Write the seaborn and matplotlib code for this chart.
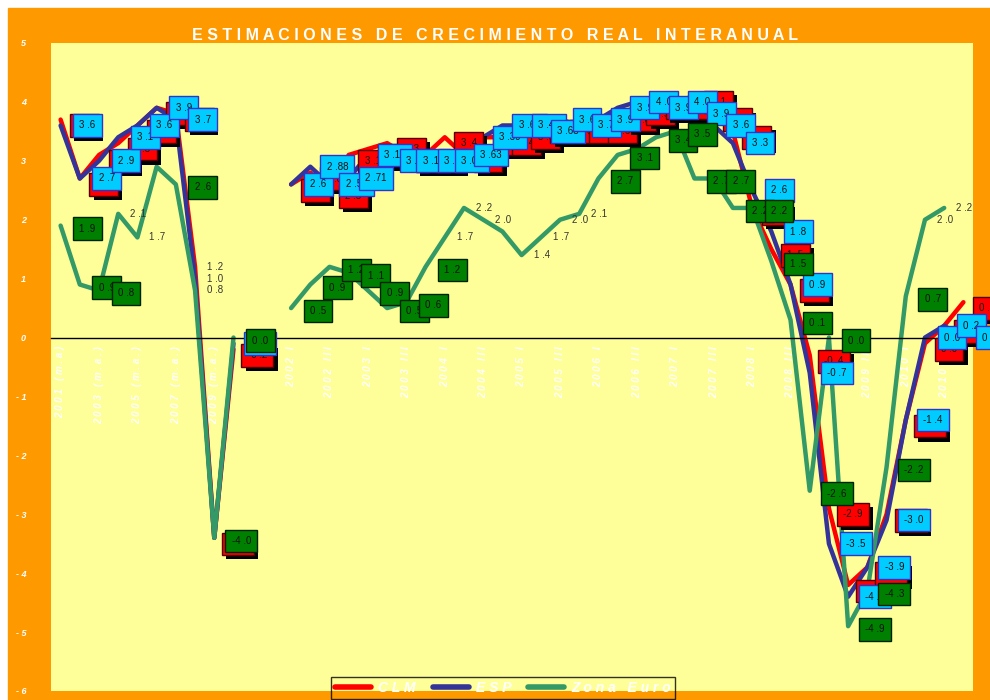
import numpy as np
import pandas as pd
import matplotlib
matplotlib.use('Agg')
import matplotlib.pyplot as plt
import matplotlib.patheffects as pe
from matplotlib.lines import Line2D
from matplotlib.patches import Rectangle
import seaborn as sns

nan = np.nan

# periodos: medias anuales y luego trimestres
anuales = ['2001 (m.a)', '2002 (m.a.)', '2003 (m.a.)', '2004 (m.a.)', '2005 (m.a.)',
           '2006 (m.a.)', '2007 (m.a.)', '2008 (m.a.)', '2009 (m.a.)', '2010 (m.a.)', '', '']
trimestres = [f'{a} {q}' for a in range(2002, 2011) for q in ['I', 'II', 'III', 'IV']]
periodos = anuales + trimestres

# valores de las lineas
clm = [3.7, 2.7, 3.1, 3.3, 3.6, 3.9, 3.8, 1.2, -3.4, -0.2, nan, nan,
       2.6, 2.8, 2.5, 3.1, 3.2, 3.3, 3.1, 3.1, 3.4, 3.1, 3.4, 3.4,
       3.5, 3.6, 3.6, 3.6, 3.6, 3.8, 3.9, 4.0, 4.0, 4.1, 3.8, 3.5,
       2.2, 1.5, 0.9, -0.3, -2.9, -4.2, -3.9, -3.0, -1.4, -0.1, 0.2, 0.6]
esp = [3.6, 2.7, 3.0, 3.4, 3.6, 3.9, 3.7, 1.0, -3.4, -0.1, nan, nan,
       2.6, 2.9, 2.6, 2.7, 3.1, 3.0, 3.0, 3.0, 3.0, 3.1, 3.4, 3.6,
       3.6, 3.5, 3.7, 3.6, 3.7, 3.9, 4.0, 3.9, 4.0, 3.8, 3.6, 3.3,
       2.5, 1.8, 0.9, -0.6, -3.5, -4.4, -3.9, -3.1, -1.4, 0.0, 0.2, 0.0]
zona = [1.9, 0.9, 0.8, 2.1, 1.7, 2.9, 2.6, 0.8, -3.4, 0.0, nan, nan,
        0.5, 0.9, 1.2, 1.1, 0.8, 0.5, 0.6, 1.2, 1.7, 2.2, 2.0, 1.8,
        1.4, 1.7, 2.0, 2.1, 2.7, 3.1, 3.2, 3.4, 3.5, 2.7, 2.7, 2.2,
        2.2, 1.3, 0.3, -2.6, 0.0, -4.9, -4.3, -2.2, 0.7, 2.0, 2.2, nan]

# textos de las etiquetas (tal como aparecen)
clm_etq = [3.7, 2.7, 3.2, 3.3, 3.6, 3.9, 3.9, 1.2, -3.5, -0.2, nan, nan,
           2.6, 2.8, 2.5, 3.1, 3.2, 3.3, 3.1, 3.1, 3.4, 3.1, 3.4, 3.4,
           3.5, 3.6, 3.6, 3.6, 3.6, 3.8, 3.9, 4.0, 4.0, 4.1, 3.8, 3.6,
           2.2, 1.5, 0.9, -0.4, -2.9, -4.2, -3.9, -3.0, -1.4, 0.0, 0.2, 0.6]
esp_etq = [3.6, 2.7, 2.9, 3.1, 3.6, 3.9, 3.7, 1.0, nan, -0.1, nan, nan,
           2.6, 2.88, 2.57, 2.71, 3.19, 3.0, 3.17, 3.0, 3.09, 3.63, 3.39, 3.62,
           3.43, 3.68, 3.6, 3.7, 3.9, 3.9, 4.0, 3.9, 4.0, 3.9, 3.6, 3.3,
           2.6, 1.8, 0.9, -0.7, -3.5, -4.4, -3.9, -3.0, -1.4, 0.0, 0.2, 0.0]
zona_etq = [1.9, 0.9, 0.8, 2.1, 1.7, nan, 2.6, 0.8, -4.0, 0.0, nan, nan,
            0.5, 0.9, 1.2, 1.1, 0.9, 0.5, 0.6, 1.2, 1.7, 2.2, 2.0, nan,
            1.4, 1.7, 2.0, 2.1, 2.7, 3.1, nan, 3.4, 3.5, 2.7, 2.7, 2.2,
            2.2, 1.5, 0.1, -2.6, 0.0, -4.9, -4.3, -2.2, 0.7, 2.0, 2.2, nan]
# etiquetas sin recuadro
clm_planas = [7]
esp_planas = [7]
zona_planas = [3, 4, 7, 20, 21, 22, 24, 25, 26, 27, 45, 46]

series = ['C L M', 'E S P', 'Z o n a   E u r o']
colores = ['#FF0000', '#333399', '#339966']

NARANJA = '#FF9900'
AMARILLO = '#FFFF99'

rows = []
for nombre, vals in zip(series, [clm, esp, zona]):
    for i, v in enumerate(vals):
        rows.append({'pos': i, 'valor': v, 'serie': nombre, 'tramo': 0 if i < 12 else 1})
df = pd.DataFrame(rows).dropna()

sns.set_style('white')
plt.rcParams['font.family'] = ['Liberation Sans', 'DejaVu Sans']

fig = plt.figure(figsize=(9.9, 7.0), dpi=100)
fig.patch.set_facecolor('white')
fig.patches.append(Rectangle((8 / 990, 0), 1 - 8 / 990, 1 - 8 / 700,
                             transform=fig.transFigure, color=NARANJA, zorder=-10))

ax = fig.add_axes([51 / 990, 1 - 691 / 700, 922 / 990, 648 / 700])
ax.set_zorder(1)
ax.set_facecolor(AMARILLO)

sns.lineplot(data=df, x='pos', y='valor', hue='serie', units='tramo', estimator=None,
             palette=dict(zip(series, colores)), hue_order=series, linewidth=3.2,
             sort=False, legend=False, ax=ax)

ax.set_xlim(-0.5, 47.5)
ax.set_ylim(-6, 5)
ax.set_xlabel('')
ax.set_ylabel('')

for s in ['top', 'right', 'left']:
    ax.spines[s].set_visible(False)
ax.spines['bottom'].set_position(('data', 0))
ax.spines['bottom'].set_color('black')
ax.spines['bottom'].set_linewidth(1)

# eje x: marcas en los limites de categoria, etiquetas cada dos
ax.set_xticks(range(0, 48, 2))
ax.set_xticklabels([' '.join(periodos[i]) for i in range(0, 48, 2)])
ax.set_xticks(np.arange(-0.5, 48, 1), minor=True)
ax.tick_params(axis='x', which='major', length=0, pad=6, labelrotation=90,
               labelsize=7, labelcolor='white')
ax.tick_params(axis='x', which='minor', length=6, width=1, direction='inout', color='black')
for t in ax.get_xticklabels():
    t.set_fontweight('bold')
    t.set_fontstyle('italic')

ax.set_yticks(range(-6, 6))
ax.set_yticklabels([str(v) if v >= 0 else '- ' + str(-v) for v in range(-6, 6)])
ax.tick_params(axis='y', length=0, pad=18, labelsize=6.5, labelcolor='white')
for t in ax.get_yticklabels():
    t.set_fontweight('bold')
    t.set_fontstyle('italic')


def fmt(v):
    s = f'{v:.2f}' if round(v, 1) != round(v, 2) else f'{v:.1f}'
    return s.replace('.', ' .')


estilos = [
    dict(fc='#FF0000', ec='#550000', off=(24, -6), z=5, sombra=True),
    dict(fc='#00CCFF', ec='#3333CC', off=(27, 0), z=6, sombra=False),
    dict(fc='#008000', ec='#002200', off=(27, -3), z=7, sombra=False),
]

for vals, etqs, planas, est in zip([clm, esp, zona], [clm_etq, esp_etq, zona_etq],
                                   [clm_planas, esp_planas, zona_planas], estilos):
    for i, (v, t) in enumerate(zip(vals, etqs)):
        if np.isnan(v) or np.isnan(t):
            continue
        if i in planas:
            ax.annotate(fmt(t), (i, v), xytext=(20, 0), textcoords='offset pixels',
                        ha='center', va='center', fontsize=7, color='#333333', zorder=8)
            continue
        a = ax.annotate(fmt(t), (i, v), xytext=est['off'], textcoords='offset pixels',
                        ha='center', va='center', fontsize=7, color='#111111',
                        bbox=dict(boxstyle='square,pad=0.65', fc=est['fc'], ec=est['ec'], lw=1),
                        zorder=est['z'])
        if est['sombra']:
            a.get_bbox_patch().set_path_effects([
                pe.SimplePatchShadow(offset=(3, -3), shadow_rgbFace='black', alpha=1),
                pe.Normal()])

fig.text(495 / 990, 1 - 35 / 700,
         'E S T I M A C I O N E S   D E   C R E C I M I E N T O   R E A L   I N T E R A N U A L',
         color='white', fontsize=11.5, fontweight='bold', ha='center', va='center')

handles = [Line2D([0], [0], color=c, lw=4, solid_capstyle='round') for c in colores]
leg = fig.legend(handles, series, loc='upper center', bbox_to_anchor=(503 / 990, 1 - 677 / 700),
                 ncol=3, frameon=True, fancybox=False, handlelength=2.6, columnspacing=1.2,
                 handletextpad=0.5, borderpad=0.3, borderaxespad=0,
                 prop=dict(weight='bold', style='italic', size=10))
leg.set_zorder(5)
leg.get_frame().set_facecolor('none')
leg.get_frame().set_edgecolor('black')
for t in leg.get_texts():
    t.set_color('white')

fig.savefig('out.png', dpi=100, facecolor=fig.get_facecolor())
